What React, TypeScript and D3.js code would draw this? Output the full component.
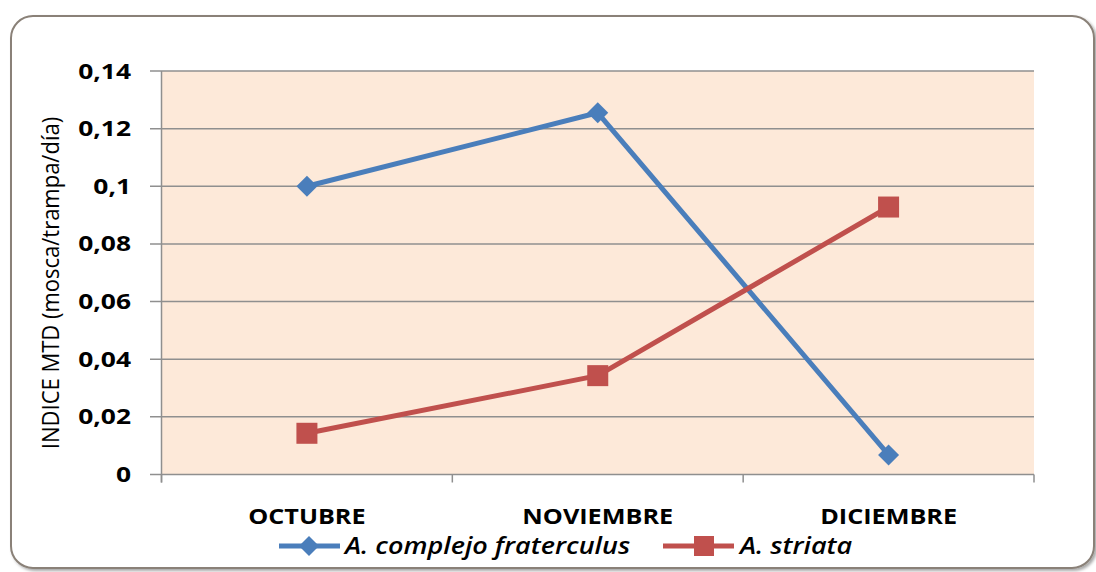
import React from "react";
import * as d3 from "d3";

const categories = ["OCTUBRE", "NOVIEMBRE", "DICIEMBRE"];
const fraterculus = [0.1, 0.1255, 0.0068];
const striata = [0.0143, 0.0343, 0.0928];
const yTicks = [0, 0.02, 0.04, 0.06, 0.08, 0.1, 0.12, 0.14];
const seriesNames = ["A. complejo fraterculus", "A. striata"];

const W = 1096;
const H = 572;
const FONT = "'Open Sans', 'Liberation Sans', sans-serif";
const SX = 1.2;

function STxt(props: any) {
  const { x, y, anchor, size, weight, style, children, rotate, fill, sx } = props;
  const s = sx || SX;
  const t = rotate
    ? `translate(${x},${y}) scale(${s},1) rotate(-90)`
    : `translate(${x},${y}) scale(${s},1)`;
  return (
    <g transform={t}>
      <text
        x={0}
        y={0}
        textAnchor={anchor || "start"}
        fontSize={size}
        fontWeight={weight || "normal"}
        fontStyle={style || "normal"}
        fontFamily={FONT}
        fill={fill || "#000"}
      >
        {children}
      </text>
    </g>
  );
}

export default function App() {
  const left = 161.5;
  const right = 1034;
  const top = 71;
  const bottom = 474.5;
  const x = d3.scaleBand<string>().domain(categories).range([left, right]).padding(0);
  const y = d3.scaleLinear().domain([0, 0.14]).range([bottom, top]);
  const cx = (c: string) => (x(c) as number) + x.bandwidth() / 2;
  const fmt = (v: number) => String(+v.toFixed(2)).replace(".", ",");
  const line = d3
    .line<number>()
    .x((_, i) => cx(categories[i]))
    .y((d) => y(d));
  const blue = "#4a7ebb";
  const red = "#c0504d";
  const grid = "#8f8f8f";
  const boundaries = [...categories.map((c) => x(c) as number), right];
  const diamond = (px: number, py: number, r: number) =>
    `M${px},${py - r}L${px + r},${py}L${px},${py + r}L${px - r},${py}Z`;

  return (
    <svg
      width={W}
      height={H}
      style={{ position: "absolute", left: 0, top: 0, background: "#fff" }}
    >
      <defs>
        <filter id="sh" x="-5%" y="-5%" width="110%" height="110%">
          <feDropShadow dx="2" dy="2" stdDeviation="1.5" floodColor="#000" floodOpacity="0.35" />
        </filter>
      </defs>
      <rect
        x={11}
        y={16}
        width={1083}
        height={552}
        rx={22}
        ry={22}
        fill="#fff"
        stroke="#8a8178"
        strokeWidth={2}
        filter="url(#sh)"
      />
      <rect x={left} y={top} width={right - left} height={bottom - top} fill="#fde9d9" />
      {yTicks.map((t) => (
        <line key={t} x1={150} x2={right} y1={y(t)} y2={y(t)} stroke={grid} strokeWidth={1.5} />
      ))}
      <line x1={left} x2={left} y1={top} y2={bottom + 8} stroke={grid} strokeWidth={1.5} />
      {boundaries.map((b, i) => (
        <line key={i} x1={b} x2={b} y1={bottom} y2={bottom + 8} stroke={grid} strokeWidth={1.5} />
      ))}
      {yTicks.map((t) => (
        <STxt key={t} x={131} y={y(t) + 7.5} anchor="end" size={22} weight="bold">
          {fmt(t)}
        </STxt>
      ))}
      {categories.map((c) => (
        <STxt key={c} x={cx(c)} y={524} anchor="middle" size={21} weight="bold">
          {c}
        </STxt>
      ))}
      <STxt x={59} y={283} anchor="middle" size={22} rotate sx={1.1}>
        INDICE MTD (mosca/trampa/día)
      </STxt>
      <path d={line(fraterculus) || ""} fill="none" stroke={blue} strokeWidth={5} strokeLinejoin="round" />
      <path d={line(striata) || ""} fill="none" stroke={red} strokeWidth={5} strokeLinejoin="round" />
      {fraterculus.map((v, i) => (
        <path key={i} d={diamond(cx(categories[i]), y(v), 10.5)} fill={blue} />
      ))}
      {striata.map((v, i) => (
        <rect key={i} x={cx(categories[i]) - 10.5} y={y(v) - 10.5} width={21} height={21} fill={red} />
      ))}
      <line x1={279} x2={340} y1={546} y2={546} stroke={blue} strokeWidth={5} />
      <path d={diamond(309, 546, 10)} fill={blue} />
      <STxt x={345} y={554} size={22.5} weight="600" style="italic">
        {seriesNames[0]}
      </STxt>
      <line x1={663} x2={734} y1={546} y2={546} stroke={red} strokeWidth={5} />
      <rect x={694} y={536} width={20} height={20} fill={red} />
      <STxt x={740} y={554} size={22.5} weight="600" style="italic">
        {seriesNames[1]}
      </STxt>
    </svg>
  );
}
